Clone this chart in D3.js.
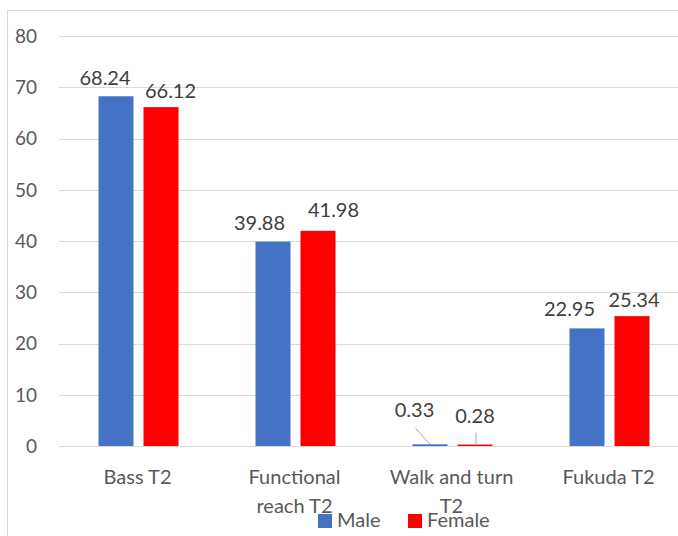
<!DOCTYPE html>
<html>
<head>
<meta charset="utf-8">
<script src="https://cdn.jsdelivr.net/npm/d3@7"></script>
<style>
  body { margin: 0; background: #fff; }
  text { font-family: Lato, "Noto Sans", sans-serif; }
</style>
</head>
<body>
<div id="chart"></div>
<script>
// data
const categories = ["Bass T2", "Functional reach T2", "Walk and turn T2", "Fukuda T2"];
const series = ["Male", "Female"];
const maleValues = [68.24, 39.88, 0.33, 22.95];
const femaleValues = [66.12, 41.98, 0.28, 25.34];
const yTicks = [0, 10, 20, 30, 40, 50, 60, 70, 80];
const colors = {Male: "#4472C4", Female: "#FF0000"};

// label nudges (dx from bar centre, dy from bar top), roughly as placed in the original
const nudges = {
  "Bass T2|Male": [-11, -11], "Bass T2|Female": [9.5, -9],
  "Functional reach T2|Male": [-13.5, -11.5], "Functional reach T2|Female": [15.5, -14],
  "Walk and turn T2|Male": [-15.5, -27], "Walk and turn T2|Female": [0, -21.5],
  "Fukuda T2|Male": [-17.5, -12], "Fukuda T2|Female": [2, -9]
};

const data = categories.map((c, i) => ({cat: c, Male: maleValues[i], Female: femaleValues[i]}));

const W = 678, H = 536;
const svg = d3.select("#chart").append("svg")
    .attr("width", W)
    .attr("height", H);

// chart border
svg.append("rect")
    .attr("x", 7.5).attr("y", 10.5)
    .attr("width", 720).attr("height", 600)
    .attr("fill", "none")
    .attr("stroke", "#d9d9d9");

const y = d3.scaleLinear().domain([0, 80]).range([446, 36]);
const x0 = d3.scaleBand().domain(categories).range([60, 688]);
const x1 = d3.scaleBand().domain(series).range([38.5, 118.5]).paddingInner(10 / 45);

// gridlines
svg.append("g")
  .selectAll("line")
  .data(yTicks)
  .join("line")
    .attr("x1", 59).attr("x2", W)
    .attr("y1", d => Math.round(y(d)) + 0.5)
    .attr("y2", d => Math.round(y(d)) + 0.5)
    .attr("stroke", "#d9d9d9")
    .attr("stroke-width", 1);

// y tick labels
svg.append("g")
  .selectAll("text")
  .data(yTicks)
  .join("text")
    .attr("x", 37)
    .attr("y", d => y(d))
    .attr("dy", "0.36em")
    .attr("text-anchor", "end")
    .attr("font-size", 19)
    .attr("fill", "#595959")
    .text(d => d);

// bars
const groups = svg.append("g")
  .selectAll("g")
  .data(data)
  .join("g")
    .attr("transform", d => `translate(${x0(d.cat)},0)`);

groups.selectAll("rect")
  .data(d => series.map(s => ({cat: d.cat, key: s, value: d[s]})))
  .join("rect")
    .attr("x", d => x1(d.key))
    .attr("y", d => y(d.value))
    .attr("width", x1.bandwidth())
    .attr("height", d => y(0) - y(d.value))
    .attr("fill", d => colors[d.key]);

// value labels
groups.selectAll("text.val")
  .data(d => series.map(s => ({cat: d.cat, key: s, value: d[s]})))
  .join("text")
    .attr("class", "val")
    .attr("x", d => x1(d.key) + x1.bandwidth() / 2 + nudges[d.cat + "|" + d.key][0])
    .attr("y", d => y(d.value) + nudges[d.cat + "|" + d.key][1])
    .attr("text-anchor", "middle")
    .attr("font-size", 20)
    .attr("fill", "#404040")
    .text(d => d.value.toFixed(2));

// leader lines for the small walk-and-turn labels
const walk = data[2];
const mx = x0(walk.cat) + x1("Male") + x1.bandwidth() / 2;
const fx = x0(walk.cat) + x1("Female") + x1.bandwidth() / 2;
svg.append("line")
    .attr("x1", mx - 14.5).attr("y1", y(walk.Male) - 16)
    .attr("x2", mx).attr("y2", y(walk.Male))
    .attr("stroke", "#a6a6a6");
svg.append("line")
    .attr("x1", fx + 1).attr("y1", y(walk.Female) - 12)
    .attr("x2", fx + 1).attr("y2", y(walk.Female))
    .attr("stroke", "#a6a6a6");

// category labels (wrapped like the original)
const catLines = {
  "Bass T2": ["Bass T2"],
  "Functional reach T2": ["Functional", "reach T2"],
  "Walk and turn T2": ["Walk and turn", "T2"],
  "Fukuda T2": ["Fukuda T2"]
};
svg.append("g")
  .selectAll("text")
  .data(categories)
  .join("text")
    .attr("x", d => x0(d) + x0.bandwidth() / 2 - 1)
    .attr("y", 484)
    .attr("text-anchor", "middle")
    .attr("font-size", 20)
    .attr("fill", "#595959")
    .selectAll("tspan")
    .data(d => catLines[d])
    .join("tspan")
      .attr("x", function() { return d3.select(this.parentNode).attr("x"); })
      .attr("dy", (d, i) => i === 0 ? 0 : 29)
      .text(d => d);

// legend
const legend = svg.append("g").attr("transform", "translate(318,514)");
const legX = {Male: 0, Female: 90};
series.forEach(s => {
  legend.append("rect")
      .attr("x", legX[s]).attr("y", 0)
      .attr("width", 14).attr("height", 14)
      .attr("fill", colors[s]);
  legend.append("text")
      .attr("x", legX[s] + 19).attr("y", 13)
      .attr("font-size", 20)
      .attr("fill", "#595959")
      .text(s);
});
</script>
</body>
</html>
